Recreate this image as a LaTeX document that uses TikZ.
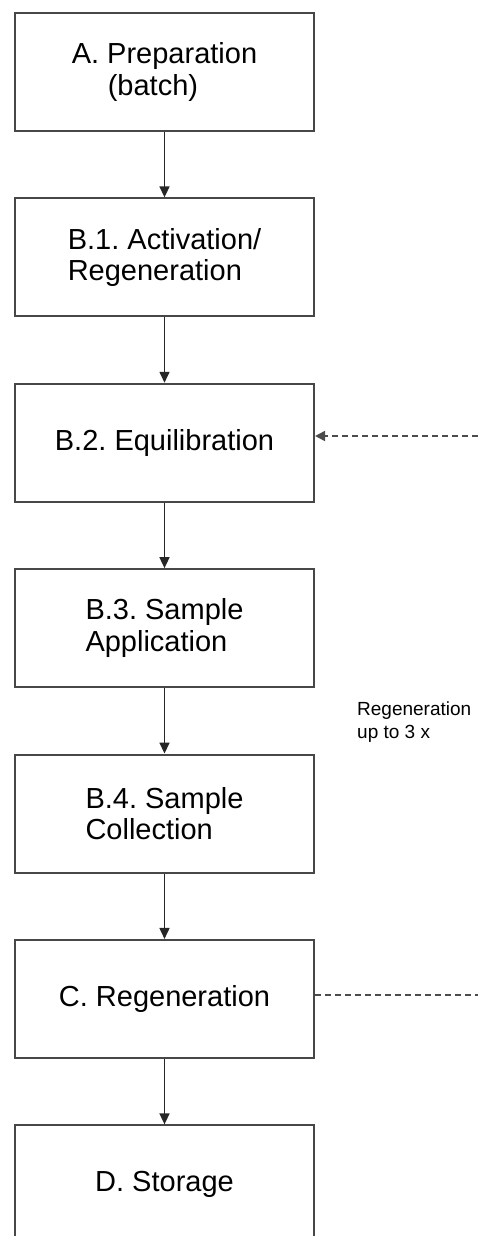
\documentclass[tikz,border=0pt]{standalone}
\usepackage{fontspec}
\setmainfont{Liberation Sans}
\usetikzlibrary{arrows.meta,positioning}
\frenchspacing

\tikzset{
  stage/.style={draw=black!72, line width=2.1pt, minimum width=299pt, minimum height=118pt,
    inner sep=0pt, align=left, font=\fontsize{29}{31.5}\selectfont},
  flow/.style={draw=black!85, line width=1.6pt, -{Triangle[length=11pt,width=10pt]}},
  loopline/.style={draw=black!70, line width=1.8pt, dash pattern=on 6pt off 4pt},
  note/.style={font=\fontsize{19}{22.5}\selectfont, align=left, inner sep=0pt}
}

\begin{document}
\begin{tikzpicture}[x=1pt,y=-1pt, node distance=65.3pt]
	\useasboundingbox (0,0) rectangle (478,1236);
	\node[stage] (prep) at (164.5,72) {A. Preparation\\\hspace*{36pt}(batch)};
	\node[stage, below=of prep] (activ) {B.1. Activation/\\Regeneration};
	\node[stage, below=of activ] (equil) {B.2. Equilibration};
	\node[stage, below=of equil] (apply) {B.3. Sample\\Application};
	\node[stage, below=of apply] (collect) {B.4. Sample\\Collection};
	\node[stage, below=of collect] (regen) {C. Regeneration};
	\node[stage, below=of regen] (store) {D. Storage};
	\draw[flow] (prep) -- (activ);
	\draw[flow] (activ) -- (equil);
	\draw[flow] (equil) -- (apply);
	\draw[flow] (apply) -- (collect);
	\draw[flow] (collect) -- (regen);
	\draw[flow] (regen) -- (store);
	% loop back from C to B.2
	\coordinate (loopin) at (478,436);
	\coordinate (loopout) at (478,995);
	\draw[loopline, -{Triangle[length=10pt,width=10pt]}] (loopin) -- (loopin -| equil.east);
	\draw[loopline] (loopout -| regen.east) -- (loopout);
	\node[note, anchor=north west] (times) at (357,702) {Regeneration\\up to 3 x};
\end{tikzpicture}
\end{document}
